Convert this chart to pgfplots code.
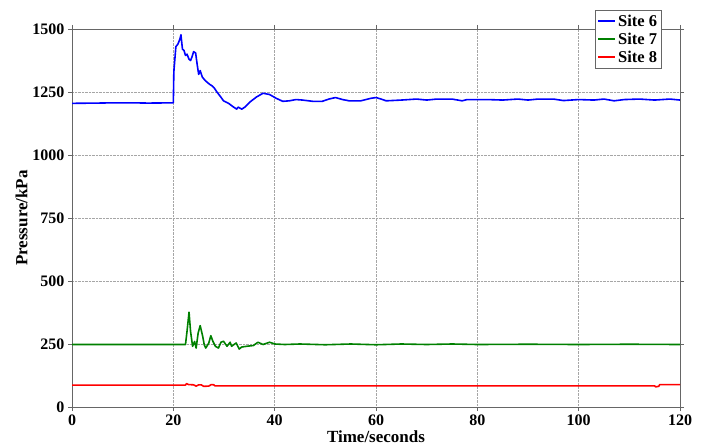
\documentclass[border=0pt]{standalone}
\usepackage{fontspec}
\setmainfont{Liberation Serif}
\usepackage{pgfplots}
\pgfplotsset{compat=1.18}
\definecolor{mgreen}{rgb}{0,0.5,0}
\begin{document}
\begin{tikzpicture}
\useasboundingbox (-72pt,-40pt) rectangle (629pt,407pt);
\begin{axis}[
  scale only axis, width=608pt, height=378pt,
  at={(0,0)}, anchor=south west,
  xmin=0, xmax=120, ymin=0, ymax=1500,
  xtick={0,20,...,120}, ytick={0,250,...,1500},
  grid=major,
  grid style={densely dotted, gray!70, line width=0.6pt},
  axis line style={gray!80!black, line width=0.7pt},
  tick style={gray!80!black, line width=0.7pt},
  tick align=outside, major tick length=4pt,
  x tick label style={font=\fontsize{16}{18}\selectfont\bfseries},
  y tick label style={font=\fontsize{16}{18}\selectfont\bfseries},
  /pgf/number format/assume math mode=true,
  /pgf/number format/1000 sep={},
  xlabel={Time/seconds}, ylabel={Pressure/kPa},
  label style={font=\fontsize{17}{19}\selectfont\bfseries},
  xlabel style={yshift=1pt},
  ylabel style={yshift=-2pt},
  legend style={at={(0.97,1.05)}, anchor=north east,
    font=\fontsize{16.5}{18}\selectfont\bfseries, draw=gray!80!black,
    row sep=1pt, inner sep=2.5pt},
  legend cell align=left,
  clip=true,
]
\addplot[blue, line width=1.6pt, line join=round] coordinates {
(0,1205) (5,1206) (8,1207) (12,1207) (15,1206) (20,1207) (20.1,1330) (20.5,1430)
(20.9,1440) (21.3,1460) (21.5,1477) (21.8,1420) (22.1,1415) (22.4,1395) (22.7,1400)
(23.1,1380) (23.4,1375) (23.7,1390) (24.0,1410) (24.4,1405) (24.7,1360) (25.0,1320)
(25.3,1335) (25.7,1310) (26.1,1300) (26.6,1290) (27.2,1280) (27.6,1275) (28.1,1265)
(28.6,1250) (29.3,1232) (29.9,1215) (30.9,1205) (31.9,1190) (32.5,1182) (32.8,1190)
(33.5,1182) (34.1,1190) (35.1,1210) (36.4,1230) (37.7,1245) (39.0,1240) (40.3,1225)
(41.6,1213) (42.9,1215) (44.2,1220) (45.5,1218) (47.5,1213) (49.4,1213) (50.7,1222)
(52.0,1228) (53.4,1220) (54.7,1215) (57,1215) (59,1225) (60,1228) (61,1222) (62,1215)
(65,1218) (68,1222) (70,1218) (72,1222) (75,1222) (77,1215) (78,1220) (82,1220)
(85,1218) (88,1222) (90,1218) (92,1222) (95,1222) (97,1216) (100,1220) (103,1218)
(105,1222) (107,1215) (109,1220) (112,1222) (115,1218) (118,1222) (120,1218)
};
\addlegendentry{Site 6}
\addplot[mgreen, line width=1.6pt, line join=round] coordinates {
(0,248) (22.4,248) (22.7,300) (23.1,376) (23.4,300) (23.8,241) (24.2,260) (24.5,234)
(24.9,294) (25.3,323) (25.8,280) (26.1,247) (26.4,234) (27.0,254) (27.4,283) (27.8,261)
(28.3,241) (28.9,234) (29.4,257) (29.9,261) (30.6,241) (31.2,257) (31.5,241) (32.4,254)
(33.0,230) (33.5,238) (34.5,241) (35.8,244) (36.7,257) (37.7,248) (39.0,257) (40,250)
(42,248) (45,250) (50,247) (55,250) (60,247) (65,250) (70,248) (75,250) (80,248)
(90,249) (100,248) (110,249) (120,248)
};
\addlegendentry{Site 7}
\addplot[red, line width=1.6pt, line join=round] coordinates {
(0,87) (22.4,87) (22.6,93) (23,89) (24,88) (24.5,83) (25,88) (25.5,88) (26,82) (27,83)
(27.5,89) (28,88) (28.2,84) (115,84) (115.2,80) (115.8,82) (116,89) (120,89)
};
\addlegendentry{Site 8}
\end{axis}
\end{tikzpicture}
\end{document}
